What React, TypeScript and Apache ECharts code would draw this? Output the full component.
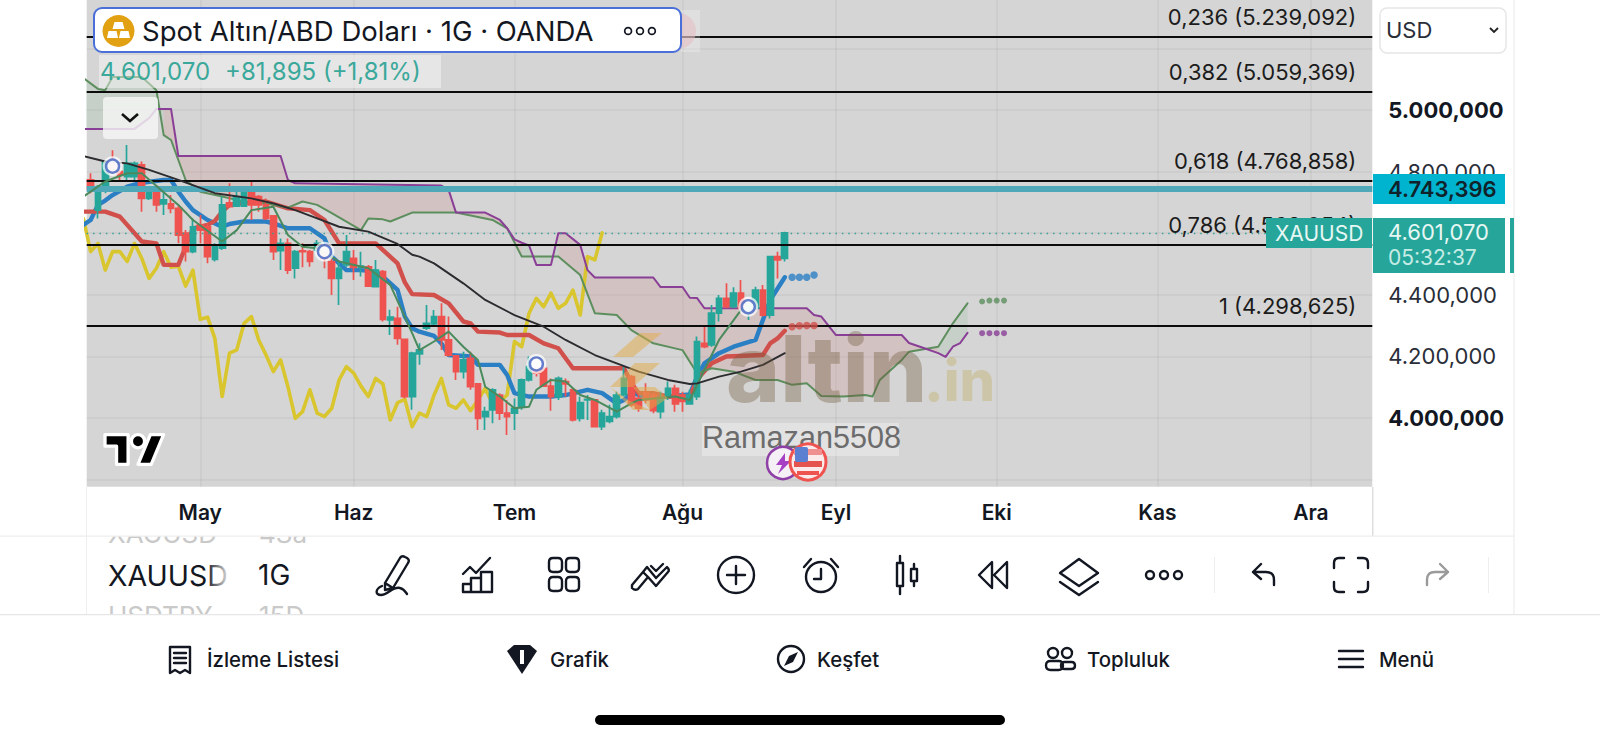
import React, { useEffect, useRef } from "react";
import * as echarts from "echarts";

const opens = [4773,4675,4751,4827,4800,4784,4784,4822,4713,4751,4695,4695,4681,4600,4540,4627,4621,4515,4551,4699,4688,4688,4740,4719,4692,4656,4543,4567,4486,4543,4540,4545,4540,4508,4453,4497,4518,4489,4491,4426,4475,4318,4323,4255,4069,4208,4291,4305,4329,4253,4201,4150,4193,4110,4004,4026,4074,4015,4015,4036,4123,4161,4161,4103,4069,4118,4091,3998,4058,4058,3971,3988,4004,4074,4134,4063,4082,4074,4020,4069,4096,4074,4045,4069,4242,4237,4340,4388,4361,4405,4350,4356,4415,4334,4524,4518];
const closes = [4743,4751,4833,4800,4789,4827,4827,4713,4746,4692,4708,4681,4594,4540,4621,4610,4524,4556,4692,4686,4719,4751,4692,4692,4648,4540,4567,4480,4540,4540,4508,4567,4518,4453,4486,4540,4489,4493,4428,4480,4320,4327,4258,4069,4210,4221,4307,4329,4253,4204,4150,4188,4101,3998,4020,4091,4015,4004,4031,4123,4166,4145,4103,4069,4128,4110,3993,4049,4060,3971,4015,4004,4074,4128,4042,4031,4058,4023,4058,4096,4045,4053,4074,4248,4231,4340,4388,4361,4405,4356,4372,4415,4334,4524,4513,4601.07];
const lows = [4730,4648,4730,4795,4773,4773,4773,4670,4708,4670,4659,4665,4567,4508,4535,4567,4502,4508,4545,4684,4686,4686,4643,4670,4643,4513,4480,4467,4453,4489,4491,4540,4486,4399,4367,4491,4448,4459,4426,4426,4313,4269,4237,4063,4026,4172,4285,4299,4220,4199,4123,4128,4091,3960,3960,3982,3993,3944,3960,4026,4118,4134,4101,4023,4058,4069,3988,3988,3993,3971,3960,3982,3998,4069,4036,4020,4047,4015,3998,4058,4020,4020,4042,4058,4226,4231,4313,4356,4356,4350,4318,4350,4329,4323,4453,4508];
const highs = [4795,4757,4838,4870,4805,4887,4833,4833,4751,4757,4746,4724,4692,4610,4648,4659,4632,4567,4719,4762,4751,4751,4773,4724,4713,4659,4583,4583,4545,4567,4545,4578,4551,4518,4508,4594,4545,4540,4497,4513,4480,4351,4361,4255,4215,4242,4367,4350,4372,4329,4204,4215,4215,4110,4036,4096,4080,4058,4063,4128,4199,4161,4161,4128,4134,4128,4096,4069,4074,4058,4026,4042,4085,4166,4139,4074,4112,4080,4085,4118,4107,4085,4091,4264,4302,4367,4399,4437,4424,4448,4380,4426,4432,4524,4540,4605];

const laggingStart = -1;
const lagging = [4648,4540,4567,4480,4540,4540,4508,4567,4518,4453,4486,4540,4489,4493,4428,4480,4320,4327,4258,4069,4210,4221,4307,4329,4253,4204,4150,4188,4101,3998,4020,4091,4015,4004,4031,4123,4166,4145,4103,4069,4128,4110,3993,4049,4060,3971,4015,4004,4074,4128,4042,4031,4058,4023,4058,4096,4045,4053,4074,4248,4231,4340,4388,4361,4405,4356,4372,4415,4334,4524,4513,4601];

const conversion = [[-1,4627],[0,4643],[1,4692],[2,4706],[3,4724],[5,4751],[7,4764],[10,4773],[11,4773],[12,4735],[13,4703],[14,4675],[16,4643],[18,4621],[19,4630],[21,4638],[24,4638],[25,4632],[27,4616],[30,4616],[32,4583],[33,4524],[35,4480],[37,4480],[39,4475],[40,4459],[42,4416],[43,4329],[44,4291],[45,4280],[47,4266],[48,4242],[49,4204],[52,4199],[53,4172],[56,4172],[57,4139],[58,4080],[60,4069],[63,4069],[65,4074],[68,4091],[70,4080],[72,4047],[73,4058],[74,4080],[76,4069],[79,4069],[82,4076],[83,4134],[84,4177],[86,4210],[88,4231],[91,4253],[92,4318],[93,4383],[95,4457]];
const base = [[-1,4670],[2,4670],[4,4654],[5,4627],[7,4573],[9,4567],[10,4497],[12,4497],[13,4556],[14,4616],[16,4627],[17,4640],[18,4670],[19,4692],[23,4703],[24,4703],[27,4681],[30,4675],[32,4643],[34,4567],[39,4567],[42,4502],[43,4440],[44,4402],[47,4399],[49,4372],[51,4313],[52,4307],[53,4280],[56,4277],[57,4269],[60,4269],[62,4242],[64,4226],[66,4161],[73,4161],[74,4112],[75,4080],[77,4080],[79,4069],[82,4069],[83,4125],[85,4177],[87,4199],[92,4204],[93,4242],[94,4258],[95,4283]];
const average = [[-1,4851],[2,4833],[5,4827],[8,4806],[12,4773],[17,4730],[22,4713],[25,4697],[28,4675],[31,4648],[34,4621],[38,4605],[42,4565],[44,4530],[45,4524],[47,4502],[51,4437],[54,4383],[58,4334],[62,4296],[65,4253],[69,4204],[72,4177],[75,4150],[79,4123],[82,4110],[83,4112],[86,4134],[89,4150],[92,4172],[95,4210]];
const trendThin = [[-1,4719],[2,4768],[5,4795],[7,4795],[12,4692],[14,4643],[18,4573],[20,4610],[22,4675],[25,4686],[27,4594],[29,4556],[31,4551],[34,4508],[38,4486],[41,4432],[44,4275],[45,4220],[47,4248],[49,4280],[51,4231],[53,4188],[54,4101],[56,4069],[58,4031],[60,4036],[61,4091],[63,4123],[65,4118],[67,4074],[69,4058],[72,4020],[74,4047],[75,4058],[80,4069],[82,4058],[84,4156],[86,4253],[89,4350],[90,4372]];
const leadA = [[-1,5104],[1,5069],[2,5065],[3,5108],[7,5108],[9,5065],[10,4919],[11,4903],[12,4838],[13,4773],[15,4735],[18,4719],[22,4697],[24,4697],[27,4683],[29,4703],[31,4692],[33,4665],[35,4638],[37,4610],[38,4648],[40,4645],[41,4638],[44,4667],[50,4667],[55,4643],[57,4616],[59,4524],[64,4524],[67,4464],[69,4340],[72,4334],[74,4285],[77,4242],[81,4220],[83,4145],[85,4161],[88,4150],[91,4123],[94,4123],[96,4107],[98,4112],[100,4071],[103,4069],[106,4074],[107,4069],[108,4123],[111,4188],[112,4215],[116,4231],[118,4307],[120,4372]];
const leadB = [[-1,4939],[2,4939],[6,4939],[8,4974],[9,5004],[10,5004],[11,5004],[12,4851],[26,4851],[27,4773],[28,4762],[48,4755],[49,4740],[50,4667],[54,4667],[56,4643],[57,4616],[58,4580],[59,4569],[60,4560],[61,4497],[63,4497],[64,4600],[65,4600],[67,4562],[68,4480],[69,4456],[77,4456],[78,4425],[81,4425],[82,4390],[83,4389],[84,4356],[98,4356],[99,4334],[100,4329],[102,4269],[111,4269],[112,4243],[114,4227],[116,4210],[117,4198],[118,4231],[119,4243],[120,4276]];

const conversionDots = [[96,4457],[97,4457],[98,4457],[99,4464]];
const baseDots = [[96,4296],[97,4299],[98,4300],[99,4300]];
const leadADots = [[122,4378],[123,4381],[124,4381],[125,4381]];
const leadBDots = [[122,4275],[123,4275],[124,4275],[125,4275]];
const signalMarkers = [[3,4818],[32,4540],[61,4175],[90,4361]];

const cloudRegions: [number, number, string][] = [
  [-1, 10, "up"], [10, 59, "down"], [59, 64, "up"], [64, 116, "down"], [116, 120, "up"],
];

const monthIndex = [15, 36, 58, 81, 102, 124, 146, 167];
const monthNames = ["May", "Haz", "Tem", "Ağu", "Eyl", "Eki", "Kas", "Ara"];
const priceTicks = [3800, 4000, 4200, 4400, 4600, 4800, 5000, 5200];
const priceLabels: Record<number, string> = {
  4000: "{b|4.000,000}", 4200: "{n|4.200,000}", 4400: "{n|4.400,000}",
  4600: "{n|4.600,000}", 4800: "{n|4.800,000}", 5000: "{b|5.000,000}",
};
const fibLevels = [5239.092, 5059.369, 4768.858, 4562.054, 4298.625];
const fibLabels = ["0,236 (5.239,092)", "0,382 (5.059,369)", "0,618 (4.768,858)", "0,786 (4.562,054)", "1 (4.298,625)"];
const resistance = 4743.396;
const lastPrice = 4601.07;

const FONT = "Inter, Roboto, sans-serif";
const INK = "#131722";
const GREEN = "#26a69a";
const RED = "#ef5350";

const circle = (cx: number, cy: number, r: number) =>
  `M${cx - r} ${cy} A${r} ${r} 0 1 0 ${cx + r} ${cy} A${r} ${r} 0 1 0 ${cx - r} ${cy} Z `;
const rr = (x: number, y: number, w: number, h: number, r: number) =>
  `M${x + r} ${y} H${x + w - r} Q${x + w} ${y} ${x + w} ${y + r} V${y + h - r} Q${x + w} ${y + h} ${x + w - r} ${y + h} H${x + r} Q${x} ${y + h} ${x} ${y + h - r} V${y + r} Q${x} ${y} ${x + r} ${y} Z `;

const icons: Record<string, string> = {
  icPen: "M-9 8 L6 -17 Q8 -20 11 -18 L13 -17 Q16 -15 14 -12 L-1 13 L-9 15 Z M-9 8 L-1 13 M-12 11 C-19 14 -19 20 -13 20 C-6 20 -1 11 6 13 C10 14 11 16 13 19",
  icChart: "M-15 17 V9 H-7 V17 Z M-7 17 V3 H3 V17 Z M3 17 V-3 H14 V17 Z M-15 -1 L-8 -8 L-2 -2 L12 -17",
  icGrid: rr(-15, -17, 13, 14, 4) + rr(2, -17, 13, 14, 4) + rr(-15, 2, 13, 14, 4) + rr(2, 2, 13, 14, 4),
  icLines: "M-18 10 L-7 -3 L-2 2 L-12 14 Q-15 16 -18 13 Z M-7 -3 L-3 -8 L6 3 L17 -8 Q20 -5 18 -3 L6 11 L-2 2 M1 -9 L6 -4 L13 -11",
  icPlus: circle(0, 0, 18) + "M-9 0 H9 M0 -9 V9",
  icAlarm: circle(0, 2, 15) + "M0 -6 V4 H-7 M-17 -8 L-10 -16 M17 -8 L10 -16",
  icCandle: "M-7 -19 V-12 M-7 11 V19 M-10 -12 H-4 V11 H-10 Z M7 -11 V-6 M7 6 V11 M4 -6 H10 V6 H4 Z",
  icRewind: "M-14 0 L-1 -13 V13 Z M1 0 L14 -13 V13 Z",
  icLayers: "M0 -16 L19 -2 L0 11 L-19 -2 Z M-19 7 L0 20 L19 7",
  icDots: circle(-14, 0, 4) + circle(0, 0, 4) + circle(14, 0, 4),
  icUndo: "M-11 -3 L-3 -11 M-11 -3 L-3 4 M-11 -3 H2 Q10 -3 10 5 V10",
  icFull: "M-7 -17 H-12 Q-17 -17 -17 -12 V-7 M7 -17 H12 Q17 -17 17 -12 V-7 M-17 7 V12 Q-17 17 -12 17 H-7 M17 7 V12 Q17 17 12 17 H7",
  icList: "M-10 -12 H10 V14 L5 11 L0 14 L-5 11 L-10 14 Z M-6 -6 H6 M-6 -1 H6 M-6 4 H6",
  icCompass: circle(0, 0, 13),
  icPeople: circle(-7, -6, 5) + circle(7, -6, 5) + rr(-14, 2, 17, 9, 4.5) + rr(1, 3, 14, 7, 3.5),
  icMenu: "M-12 -8 H12 M-12 0 H12 M-12 8 H12",
  tvLogo: "M14 22 H7 V11 H0 V4 H14 Z M28 22 H20 L27.5 4 H35.5 Z " + circle(20, 8, 4),
};
Object.keys(icons).forEach((name) => {
  echarts.graphic.registerShape(name, echarts.graphic.extendPath(icons[name], {}));
});

const txt = (text: string, x: number, y: number, size: number, fill: string, extra: any = {}) => ({
  type: "text", x, y, z: extra.z ?? 100,
  style: {
    text, fill, fontSize: size, fontFamily: extra.family ?? FONT, fontWeight: extra.weight ?? 400,
    textAlign: extra.align ?? "left", textVerticalAlign: "middle",
  },
});
const box = (x: number, y: number, width: number, height: number, fill: string, extra: any = {}) => ({
  type: "rect", z: extra.z ?? 100, shape: { x, y, width, height, r: extra.r ?? 0 },
  style: { fill, stroke: extra.stroke ?? "none", lineWidth: extra.lineWidth ?? 1 },
});
const icon = (name: string, x: number, y: number, extra: any = {}) => ({
  type: name, x, y, z: extra.z ?? 100, scaleX: extra.scaleX ?? extra.scale ?? 1, scaleY: extra.scale ?? 1,
  style: {
    stroke: extra.stroke ?? INK, fill: extra.fill ?? "none",
    lineWidth: extra.lineWidth ?? 2.4, lineCap: "round", lineJoin: "round",
  },
});
const poly = (points: number[][], fill: string, z = 60) => ({
  type: "polygon", z, shape: { points }, style: { fill },
});

const GOLD = "rgba(226,172,72,.5)";
const chrome: any[] = [
  // watermark
  poly([[613, 357], [640, 333], [662, 333], [633, 357]], GOLD),
  poly([[610, 387], [635, 363], [660, 363], [633, 387]], GOLD),
  poly([[610, 387], [628, 400], [650, 410], [633, 410]], GOLD),
  poly([[633, 387], [655, 387], [668, 398], [650, 410]], GOLD),
  txt("altin", 726, 368, 92, "rgba(110,88,58,.36)", { weight: 800, z: 60 }),
  txt(".in", 924, 381, 56, "rgba(196,176,104,.42)", { weight: 800, z: 60 }),
  box(702, 423, 197, 33, "rgba(255,255,255,.32)", { z: 70 }),
  txt("Ramazan5508", 702, 437, 30.6, "#6c6c6c", { family: "Liberation Sans", z: 71 }),

  // TV logo
  icon("tvLogo", 105, 428, { scale: 1.65, fill: "#000", stroke: "#fff", lineWidth: 2 }),

  // event badges
  { type: "circle", z: 80, shape: { cx: 783, cy: 463, r: 16 }, style: { fill: "#f4f0f6", stroke: "#8e3fa6", lineWidth: 2.5 } },
  poly([[785, 453], [776, 465], [782, 465], [778, 474], [791, 461], [785, 461]], "#a63fc4", 80),
  { type: "circle", z: 81, shape: { cx: 808, cy: 462, r: 18 }, style: { fill: "#fbeaea", stroke: "#ef5350", lineWidth: 3 } },
  box(794, 449, 28, 6, "#ef8f8f", { z: 82 }),
  box(794, 461, 28, 6, "#e5534f", { z: 82 }),
  box(797, 471, 22, 4, "#ef5350", { z: 82 }),
  box(795, 447, 13, 15, "#5b7fd1", { z: 83, r: 2 }),

  // header
  { type: "circle", z: 98, shape: { cx: 678, cy: 31, r: 18 }, style: { fill: "rgba(220,165,175,.55)" } },
  box(681, 10, 19, 42, "rgba(255,255,255,.25)", { z: 99 }),
  box(94, 8, 587, 44, "#ffffff", { r: 8, stroke: "#4a6fd8", lineWidth: 2 }),
  { type: "circle", z: 101, shape: { cx: 118.5, cy: 31, r: 16 }, style: { fill: "#e2a013" } },
  poly([[114.5, 22], [122.5, 22], [124.5, 29], [112.5, 29]], "#fff", 102),
  poly([[108.5, 31], [116.5, 31], [118, 38], [107, 38]], "#fff", 102),
  poly([[120.5, 31], [128.5, 31], [130, 38], [119, 38]], "#fff", 102),
  txt("Spot Altın/ABD Doları · 1G · OANDA", 142, 31, 27.5, INK, { weight: 400 }),
  icon("icDots", 640, 31, { scale: 0.85, lineWidth: 2 }),
  box(99, 55, 342, 33, "rgba(255,255,255,.42)", { z: 90 }),
  txt("4.601,070", 100, 71, 24, "#3aa89a", { z: 91 }),
  txt("+81,895 (+1,81%)", 225, 71, 24, "#3aa89a", { z: 91 }),
  box(103, 97, 55, 42, "rgba(245,245,245,.82)", { z: 90, r: 4 }),
  { type: "polyline", z: 91, shape: { points: [[122, 114], [130, 121], [138, 114]] }, style: { stroke: "#111", fill: "none", lineWidth: 2.6 } },

  // USD selector
  box(1380, 8, 126, 45, "#ffffff", { r: 7, stroke: "#e6e6e6", lineWidth: 1.5 }),
  txt("USD", 1386, 30, 22, "#2a2e39"),
  { type: "polyline", z: 101, shape: { points: [[1490, 28], [1494, 32], [1498, 28]] }, style: { stroke: "#222", fill: "none", lineWidth: 1.8 } },

  // price tags
  box(1373, 174, 132, 30, "#00b4d0"),
  txt("4.743,396", 1388, 189, 22, "#10222a", { weight: 600 }),
  box(1266, 218, 106, 30, "#26a69a"),
  txt("XAUUSD", 1275, 233, 21, "#e6f7f4"),
  box(1373, 218, 132, 55, "#26a69a"),
  txt("4.601,070", 1388, 232, 22, "#e6f7f4"),
  txt("05:32:37", 1388, 257, 21, "#c6ece6"),
  box(1510, 218, 4, 55, "#26a69a"),

  // frame lines
  box(1513.5, 0, 1, 614, "#eaeaea", { z: 40 }),
  box(86, 487, 1, 127, "#efefef", { z: 40 }),
  box(1372, 487, 1.5, 49, "#dedede", { z: 40 }),

  // watchlist wheel
  txt("XAGUSD", 108, 533, 26, "#c9c9c9", { z: 40 }),
  txt("4Sa", 259, 533, 26, "#c9c9c9", { z: 40 }),
  txt("USDTRY", 108, 615, 26, "#c9c9c9", { z: 40 }),
  txt("15D", 259, 615, 26, "#c9c9c9", { z: 40 }),
  box(87, 524, 1280, 12, "#ffffff", { z: 41 }),
  box(87, 614, 400, 24, "#ffffff", { z: 41 }),
  box(0, 535.5, 1514, 1.2, "#eeeeee", { z: 42 }),
  box(0, 614, 1600, 1.2, "#e6e6e6", { z: 42 }),
  txt("XAUUSD", 108, 575, 28.5, INK),
  {
    type: "rect", z: 101, shape: { x: 206, y: 555, width: 26, height: 40 },
    style: { fill: new echarts.graphic.LinearGradient(0, 0, 1, 0, [{ offset: 0, color: "rgba(255,255,255,0)" }, { offset: 1, color: "#fff" }]) },
  },
  txt("1G", 258, 575, 28, INK),

  // toolbar
  icon("icPen", 394, 575),
  icon("icChart", 478, 575),
  icon("icGrid", 564, 575),
  icon("icLines", 650, 575),
  icon("icPlus", 736, 575),
  icon("icAlarm", 821, 575),
  icon("icCandle", 907, 575),
  icon("icRewind", 993, 575),
  icon("icLayers", 1079, 575),
  icon("icDots", 1164, 575),
  box(1214, 557, 1, 36, "#eeeeee"),
  icon("icUndo", 1264, 575),
  icon("icFull", 1351, 575),
  icon("icUndo", 1437, 575, { scaleX: -1, scale: 1, stroke: "#9a9a9a" }),
  box(1488, 557, 1, 36, "#eeeeee"),

  // bottom nav
  icon("icList", 180, 659),
  txt("İzleme Listesi", 207, 659, 20.4, INK, { weight: 500 }),
  poly([[507, 651], [514, 645], [530, 645], [537, 651], [522, 674]], INK, 100),
  box(520, 650, 4, 14, "#fff", { z: 101 }),
  txt("Grafik", 550, 659, 20.4, INK, { weight: 500 }),
  icon("icCompass", 791, 659),
  poly([[798, 652], [793, 662], [784, 666], [789, 656]], INK, 100),
  txt("Keşfet", 817, 659, 20.4, INK, { weight: 500 }),
  icon("icPeople", 1060, 659),
  txt("Topluluk", 1087, 659, 20.4, INK, { weight: 500 }),
  icon("icMenu", 1351, 659),
  txt("Menü", 1379, 659, 20.4, INK, { weight: 500 }),
  box(595, 715, 410, 10, "#000000", { r: 5 }),
];

const thinLine = (name: string, data: number[][], color: string, width: number, z: number) => ({
  name, type: "line", data, z, symbol: "none", showSymbol: false, silent: true,
  lineStyle: { color, width, cap: "round", join: "round" }, itemStyle: { color },
});
const dots = (name: string, data: number[][], color: string, size: number) => ({
  name, type: "scatter", data, z: 8, symbolSize: size, silent: true, itemStyle: { color },
});

export default function App() {
  const ref = useRef<HTMLDivElement>(null);
  useEffect(() => {
    document.body.style.margin = "0";
    const chart = echarts.init(ref.current!, null, { renderer: "svg" });
    chart.setOption({
      animation: false,
      backgroundColor: "#ffffff",
      grid: { left: 86.7, right: 227.7, top: 0, bottom: 252.3, show: true, backgroundColor: "#d5d5d5", borderWidth: 0 },
      xAxis: {
        type: "value", min: -0.54, max: 175.4,
        axisLine: { show: false },
        axisTick: { show: false, customValues: monthIndex },
        axisLabel: {
          customValues: monthIndex, margin: 15, fontFamily: FONT, fontSize: 21, fontWeight: 600, color: INK,
          formatter: (v: number) => monthNames[monthIndex.indexOf(v)] ?? "",
        },
        splitLine: { show: true, lineStyle: { color: "rgba(0,0,0,.05)", width: 1.5 } },
      },
      yAxis: {
        type: "value", position: "right", min: 3776, max: 5358, scale: true,
        axisLine: { show: false },
        axisTick: { show: false, customValues: priceTicks },
        axisLabel: {
          customValues: priceTicks, margin: 16, align: "left",
          formatter: (v: number) => priceLabels[v] ?? "",
          rich: {
            b: { fontFamily: FONT, fontSize: 22, fontWeight: 700, color: INK },
            n: { fontFamily: FONT, fontSize: 22, fontWeight: 400, color: "#2a2e39" },
          },
        },
        splitLine: { show: true, lineStyle: { color: "rgba(0,0,0,.05)", width: 1.5 } },
      },
      graphic: { elements: chrome },
      series: [
        {
          name: "Bulut", type: "custom", coordinateSystem: "cartesian2d", z: 1, clip: true, silent: true,
          data: cloudRegions.map((_, i) => [i]),
          renderItem: (params: any, api: any) => {
            const [from, to, kind] = cloudRegions[params.dataIndex];
            const inRange = (p: number[]) => p[0] >= from && p[0] <= to;
            const a = leadA.filter(inRange).map((p) => api.coord(p));
            const b = leadB.filter(inRange).map((p) => api.coord(p)).reverse();
            return {
              type: "polygon", shape: { points: [...a, ...b] },
              style: { fill: kind === "up" ? "rgba(110,170,120,.13)" : "rgba(205,120,120,.2)" },
            };
          },
        },
        thinLine("Gecikme", lagging.map((v, i) => [laggingStart + i, v]), "#d9c62f", 3.6, 2),
        thinLine("Dönüşüm", conversion, "#2b7fc4", 4.4, 2),
        thinLine("Baz", base, "#d2504c", 4.4, 2),
        thinLine("Öncü A", leadA, "#5d8f5e", 2, 3),
        thinLine("Öncü B", leadB, "#8a3f96", 2, 3),
        thinLine("Trend", trendThin, "#4a8a5c", 2, 5),
        {
          name: "XAUUSD", type: "candlestick", z: 4, silent: true, barWidth: 6.2,
          encode: { x: 0, y: [1, 2, 3, 4] },
          data: closes.map((c, i) => [i, opens[i], c, lows[i], highs[i]]),
          itemStyle: { color: GREEN, color0: RED, borderColor: GREEN, borderColor0: RED, borderWidth: 1.7 },
        },
        thinLine("Ortalama", average, "#2b2b30", 1.9, 6),
        dots("Dönüşüm projeksiyon", conversionDots, "#2b7fc4", 7.5),
        dots("Baz projeksiyon", baseDots, "#d2504c", 7.5),
        dots("Öncü A projeksiyon", leadADots, "#5d8f5e", 6),
        dots("Öncü B projeksiyon", leadBDots, "#8a3f96", 6),
        {
          name: "Sinyal halo", type: "scatter", z: 9, silent: true, data: signalMarkers, symbolSize: 20,
          itemStyle: { color: "rgba(255,255,255,.9)" },
        },
        {
          name: "Sinyal", type: "scatter", z: 10, silent: true, data: signalMarkers, symbolSize: 13,
          itemStyle: { color: "#ffffff", borderColor: "#3e5fc0", borderWidth: 2.4 },
        },
        {
          name: "Seviyeler", type: "line", data: [], z: 7, silent: true,
          markLine: {
            silent: true, symbol: "none", animation: false,
            data: [
              ...fibLevels.map((v, i) => ({
                yAxis: v,
                lineStyle: { color: "#0b0b0b", width: 2, type: "solid" },
                label: {
                  show: true, formatter: fibLabels[i], position: "insideEndTop", distance: [16, 9],
                  color: "#1c1c1c", fontFamily: FONT, fontSize: 22,
                },
              })),
              { yAxis: resistance, lineStyle: { color: "#4fa8b8", width: 6, type: "solid" }, label: { show: false } },
              { yAxis: lastPrice, lineStyle: { color: "#2f9e97", width: 1.4, type: [1.4, 5] }, label: { show: false } },
            ],
          },
        },
      ],
    });
    return () => chart.dispose();
  }, []);
  return <div ref={ref} style={{ position: "absolute", left: 0, top: 0, width: 1600, height: 739, background: "#fff" }} />;
}
